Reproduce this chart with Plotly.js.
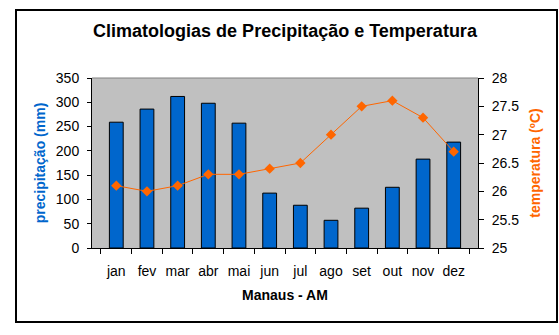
<!DOCTYPE html>
<html>
<head>
<meta charset="utf-8">
<script src="https://cdn.plot.ly/plotly-3.0.1.min.js"></script>
<style>html,body{margin:0;padding:0;background:#fff;}#chart{width:559px;height:335px;}</style>
</head>
<body>
<div id="chart"></div>
<script>
const months = ['jan','fev','mar','abr','mai','jun','jul','ago','set','out','nov','dez'];
const precipitation = [259, 286, 312, 298, 257, 113, 88, 57, 82, 125, 183, 218];
const temperature = [26.1, 26.0, 26.1, 26.3, 26.3, 26.4, 26.5, 27.0, 27.5, 27.6, 27.3, 26.7];

const FONT = 'Arial, "Liberation Sans", sans-serif';
const L = 92, R = 478, T = 78, B = 248, W = 559, H = 335;
const pw = R - L, ph = B - T;
const px = x => (x - L) / pw;
const py = y => (B - y) / ph;

const traces = [
  {
    type: 'bar', x: months, y: precipitation, name: 'precipitação',
    marker: {color: '#0066CC', line: {color: '#000000', width: 1}},
    yaxis: 'y', hoverinfo: 'x+y'
  },
  {
    type: 'scatter', mode: 'lines+markers', x: months, y: temperature, name: 'temperatura',
    line: {color: '#FF6600', width: 1},
    marker: {symbol: 'diamond', size: 8, color: '#FF6600'},
    yaxis: 'y2'
  }
];

const layout = {
  width: W, height: H,
  margin: {l: L, r: W - R, t: T, b: H - B, pad: 0},
  paper_bgcolor: '#ffffff',
  plot_bgcolor: '#C0C0C0',
  showlegend: false,
  bargap: 0.55,
  font: {family: FONT, size: 14, color: '#000'},
  title: {text: '<b>Climatologias de Precipitação e Temperatura</b>', font: {family: FONT, size: 18, color: '#000'},
          x: px(285), xref: 'paper', xanchor: 'center', y: 1 - 31 / H, yanchor: 'middle'},
  xaxis: {
    type: 'category', showgrid: false, showline: true, linecolor: '#000', linewidth: 1,
    ticks: 'outside', ticklen: 5, tickcolor: '#000', tickson: 'boundaries', ticklabelstandoff: 10,
    tickangle: 0,
    tickfont: {family: FONT, size: 14, color: '#000'},
    title: {text: '<b>Manaus - AM</b>', font: {family: FONT, size: 14, color: '#000'}, standoff: 12},
    zeroline: false
  },
  yaxis: {
    range: [0, 350], dtick: 50, showgrid: false, showline: true, linecolor: '#000', linewidth: 1,
    ticks: 'outside', ticklen: 4, tickcolor: '#000', zeroline: false, ticklabelstandoff: 5,
    tickfont: {family: FONT, size: 14, color: '#000'},
    title: {text: '<b>precipitação (mm)</b>', font: {family: FONT, size: 14, color: '#0066CC'}, standoff: 6}
  },
  yaxis2: {
    range: [25, 28], dtick: 0.5, overlaying: 'y', side: 'right', showgrid: false,
    showline: true, linecolor: '#000', linewidth: 1,
    ticks: 'outside', ticklen: 5, tickcolor: '#000', zeroline: false, ticklabelstandoff: 5,
    tickfont: {family: FONT, size: 14, color: '#000'},
    title: {text: '<b>temperatura (ºC)</b>', font: {family: FONT, size: 14, color: '#FF6600'}, standoff: 11}
  },
  shapes: [
    {type: 'line', xref: 'paper', yref: 'paper', x0: 0, x1: 1, y0: 1, y1: 1, line: {color: '#808080', width: 1}},
    {type: 'rect', xref: 'paper', yref: 'paper', x0: px(16), x1: px(557), y0: py(322), y1: py(10),
     line: {color: '#000', width: 2}, fillcolor: 'rgba(0,0,0,0)'}
  ]
};

Plotly.newPlot('chart', traces, layout, {displayModeBar: false, staticPlot: true});
</script>
</body>
</html>
